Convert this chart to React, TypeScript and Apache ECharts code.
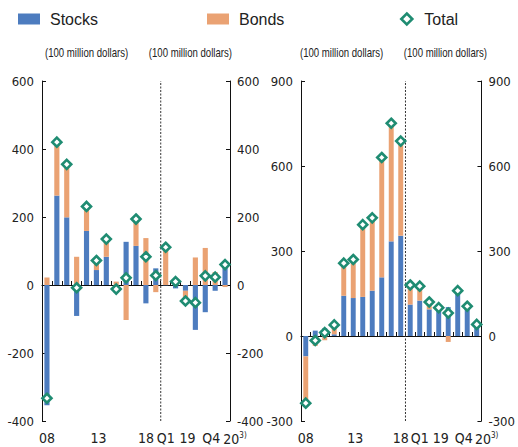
import React, { useEffect, useRef } from 'react';
import * as echarts from 'echarts';

// Tick labels shown under each panel (same slots in both panels)
const tickLabels = ['08', '', '', '', '', '13', '', '', '', '', '18', '', 'Q1', '', '19', '', 'Q4', '', '20'];

// Left panel: 12 annual + 7 quarterly observations
const leftCategories = ['2008', '2009', '2010', '2011', '2012', '2013', '2014', '2015', '2016', '2017', '2018', '2019', 'Qa1', 'Qa2', 'Qa3', 'Qa4', 'Qb1', 'Qb2', 'Qb3'];
const leftStocks = [-354, 263, 199, -91, 159, 44, 83, -22, 127, 115, -54, 49, -1, -10, -17, -132, -80, -17, 64];
const leftBonds = [22, 157, 152, 83, 72, 28, 52, 10, -103, 79, 138, -21, 112, 20, -30, 81, 109, 38, -6];
const leftTotal = [-333, 420, 355, -8, 231, 72, 135, -12, 21, 194, 83, 28, 111, 10, -47, -52, 27, 23, 60];
const leftFirstQuarterIndex = 12;

// Right panel: 11 annual + 8 quarterly observations
const rightCategories = ['2008', '2009', '2010', '2011', '2012', '2013', '2014', '2015', '2016', '2017', '2018', 'Qa1', 'Qa2', 'Qa3', 'Qa4', 'Qb1', 'Qb2', 'Qb3', 'Qb4'];
const rightStocks = [-72, 19, 27, 6, 142, 134, 138, 160, 207, 334, 354, 111, 125, 94, 92, 102, 151, 102, 31];
const rightBonds = [-165, -35, -15, 33, 115, 136, 255, 257, 423, 417, 334, 69, 51, 26, 8, -21, 9, 3, 10];
const rightTotal = [-237, -16, 12, 39, 257, 270, 393, 417, 630, 751, 688, 180, 176, 120, 100, 81, 160, 105, 41];
const rightFirstQuarterIndex = 11;

const unitText = '(100 million dollars)';

const BLUE = '#4d7cbf';
const ORANGE = '#eaa273';
const TEAL = '#1f8c72';
const INK = '#222';
const NARROW = '"Liberation Sans Narrow", "Arial Narrow", "DejaVu Sans Condensed", sans-serif';
const SANS = '"Liberation Sans", Arial, Helvetica, sans-serif';
const TICK_FS = 13;

function buildPanel(
  g: number,
  cats: string[],
  stocks: number[],
  bonds: number[],
  total: number[],
  min: number,
  max: number,
  interval: number,
  firstQ: number
) {
  const xBase = g * 3;
  const yBase = g * 2;
  const xAxis = [
    {
      type: 'category',
      gridIndex: g,
      data: cats,
      position: 'bottom',
      axisLine: { onZero: true, lineStyle: { color: '#111', width: 1.2 } },
      axisTick: { show: true, inside: true, length: 4, interval: 0, alignWithLabel: false, lineStyle: { color: '#111' } },
      axisLabel: { show: false },
      splitLine: { show: false },
    },
    {
      type: 'category',
      gridIndex: g,
      data: cats,
      position: 'bottom',
      axisLine: { show: false, onZero: false },
      axisTick: { show: false },
      splitLine: { show: false },
      axisLabel: {
        show: true,
        interval: 0,
        margin: 10,
        color: INK,
        fontSize: 14,
        fontFamily: NARROW,
        formatter: (_v: string, i: number) => {
          const t = tickLabels[i];
          if (!t) return '';
          if (i === 18) return `{y|${t}}{sup|3)}`;
          if (i === 16) return `{q|${t}}`;
          if (i === 5 || i === 14) return `{s|${t}}`;
          return `{n|${t}}`;
        },
        rich: {
          n: { fontSize: 14, fontFamily: NARROW, color: INK },
          s: { fontSize: 14, fontFamily: NARROW, color: INK, padding: [0, 0, 0, 4] },
          q: { fontSize: 14, fontFamily: NARROW, color: INK, padding: [0, 0, 0, 12] },
          y: { fontSize: 14, fontFamily: NARROW, color: INK, padding: [0, 0, 0, 20], lineHeight: 16 },
          sup: { fontSize: 8, fontFamily: NARROW, color: INK, verticalAlign: 'top', lineHeight: 8, padding: [0, 0, 6, 0] },
        },
      },
    },
    {
      type: 'value',
      gridIndex: g,
      min: -0.5,
      max: cats.length - 0.5,
      show: false,
    },
  ];
  const yCommon = {
    type: 'value',
    gridIndex: g,
    min,
    max,
    interval,
    splitLine: { show: false },
    axisLine: { show: true, onZero: false, lineStyle: { color: '#111', width: 1 } },
    axisTick: { show: true, inside: true, length: 4, lineStyle: { color: '#111' } },
  };
  const yAxis = [
    {
      ...yCommon,
      position: 'left',
      axisLabel: { color: INK, fontSize: TICK_FS, fontFamily: NARROW, margin: 8 },
    },
    {
      ...yCommon,
      position: 'right',
      axisLabel: { color: INK, fontSize: TICK_FS, fontFamily: NARROW, margin: 7 },
    },
  ];
  const splitX = firstQ - 0.5;
  const series = [
    {
      name: 'Stocks',
      type: 'bar',
      xAxisIndex: xBase,
      yAxisIndex: yBase,
      stack: 'p' + g,
      barWidth: '52%',
      itemStyle: { color: BLUE },
      data: stocks,
    },
    {
      name: 'Bonds',
      type: 'bar',
      xAxisIndex: xBase,
      yAxisIndex: yBase,
      stack: 'p' + g,
      barWidth: '52%',
      itemStyle: { color: ORANGE },
      data: bonds,
    },
    {
      name: 'split',
      type: 'line',
      xAxisIndex: xBase + 2,
      yAxisIndex: yBase,
      symbol: 'none',
      silent: true,
      lineStyle: { color: '#333', width: 1, type: [2, 1.5] },
      data: [
        [splitX, min],
        [splitX, max],
      ],
      z: 3,
    },
    {
      name: 'Total',
      type: 'scatter',
      xAxisIndex: xBase,
      yAxisIndex: yBase,
      symbol: 'diamond',
      symbolSize: 9,
      itemStyle: { color: '#fff', borderColor: TEAL, borderWidth: 2.6, opacity: 1 },
      data: total,
      z: 5,
    },
  ];
  return { xAxis, yAxis, series };
}

function unitLabel(x: number, align: 'left' | 'right') {
  return {
    type: 'text',
    x,
    y: 53,
    scaleX: 0.8,
    silent: true,
    style: {
      text: unitText,
      fontSize: 12,
      fontFamily: SANS,
      fill: INK,
      textAlign: align,
      textVerticalAlign: 'middle',
    },
  };
}

export default function App() {
  const ref = useRef<HTMLDivElement>(null);
  useEffect(() => {
    if (!ref.current) return;
    const chart = echarts.init(ref.current, undefined, { renderer: 'svg' });
    const L = buildPanel(0, leftCategories, leftStocks, leftBonds, leftTotal, -400, 600, 200, leftFirstQuarterIndex);
    const R = buildPanel(1, rightCategories, rightStocks, rightBonds, rightTotal, -300, 900, 300, rightFirstQuarterIndex);
    const legendText = { color: INK, fontSize: 16, fontFamily: SANS, padding: [0, 0, 0, 5] };
    chart.setOption({
      animation: false,
      backgroundColor: '#fff',
      grid: [
        { left: 42, top: 81, width: 188, height: 340, containLabel: false },
        { left: 301, top: 81, width: 188, height: 340, containLabel: false },
      ],
      legend: [
        { data: ['Stocks'], left: 18, top: 11, padding: 0, icon: 'rect', itemWidth: 22, itemHeight: 11, textStyle: legendText, selectedMode: false },
        { data: ['Bonds'], left: 207, top: 11, padding: 0, icon: 'rect', itemWidth: 22, itemHeight: 11, textStyle: legendText, selectedMode: false },
        {
          data: [{ name: 'Total', icon: 'diamond' }],
          left: 400,
          top: 11,
          padding: 0,
          itemWidth: 11,
          itemHeight: 11,
          itemStyle: { color: '#fff', borderColor: TEAL, borderWidth: 2.6 },
          textStyle: { ...legendText, padding: [0, 0, 0, 7] },
          selectedMode: false,
        },
      ],
      graphic: [unitLabel(45, 'left'), unitLabel(232, 'right'), unitLabel(300, 'left'), unitLabel(487, 'right')],
      xAxis: [...L.xAxis, ...R.xAxis],
      yAxis: [...L.yAxis, ...R.yAxis],
      series: [...L.series, ...R.series],
    });
    return () => chart.dispose();
  }, []);
  return (
    <div
      ref={ref}
      style={{ position: 'fixed', left: 0, top: 0, width: 518, height: 447, background: '#fff' }}
    />
  );
}
